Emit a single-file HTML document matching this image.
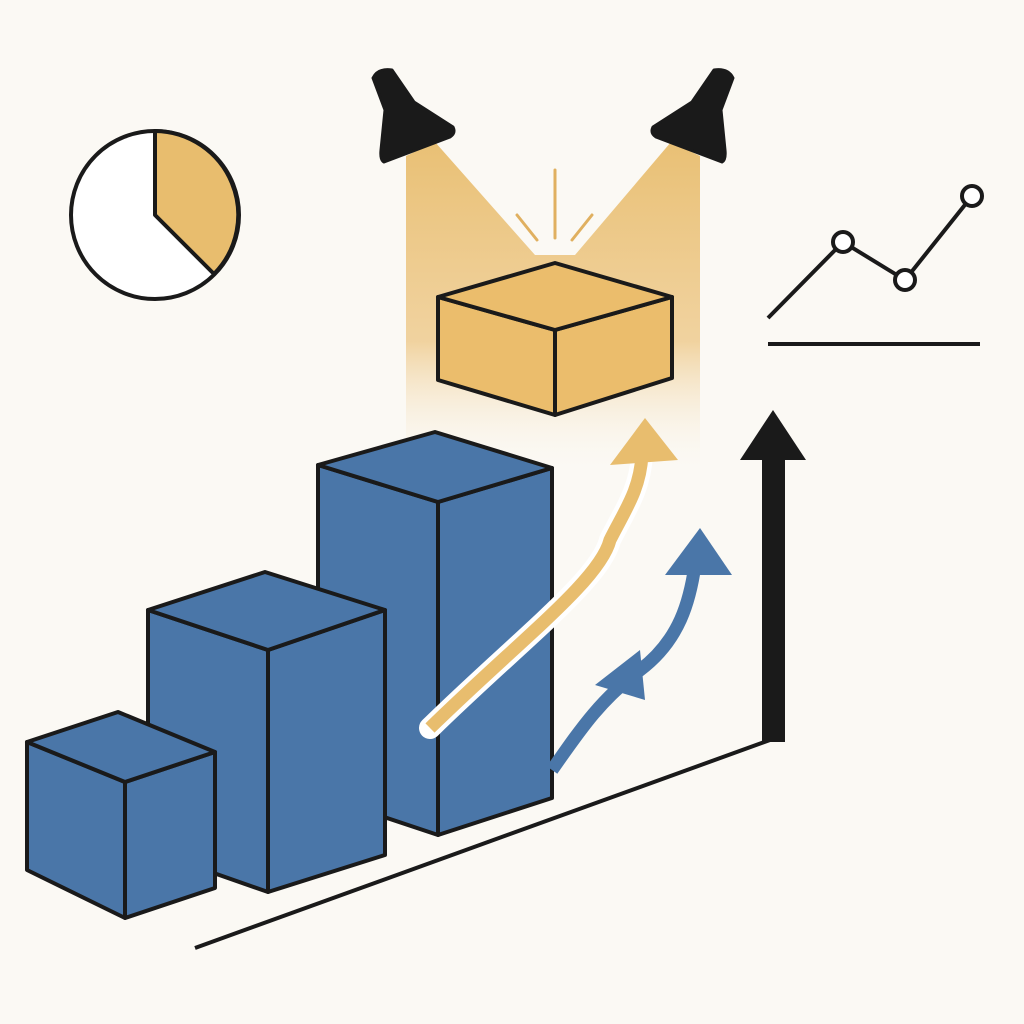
<!DOCTYPE html>
<html><head><meta charset="utf-8"><style>
html,body{margin:0;padding:0;background:#fbf9f4;}
svg{display:block;}
</style></head><body>
<svg width="1024" height="1024" viewBox="0 0 1024 1024" xmlns="http://www.w3.org/2000/svg">
<defs>
<linearGradient id="beam" x1="0" y1="0" x2="0" y2="1">
<stop offset="0" stop-color="#e8bd6e" stop-opacity="0.95"/>
<stop offset="0.6" stop-color="#eec98a" stop-opacity="0.8"/>
<stop offset="1" stop-color="#fbf9f4" stop-opacity="0"/>
</linearGradient>
</defs>
<rect width="1024" height="1024" fill="#fbf9f4"/>

<!-- beams -->
<polygon points="406,156 435,142 535,255 575,255 671,142 700,156 700,475 406,475" fill="url(#beam)"/>

<!-- spotlights -->
<g fill="#1a1a1a" stroke="#1a1a1a" stroke-width="3" stroke-linejoin="round">
<path d="M373,78 Q378,68 392,70 L414,102 L453,127 Q456,133 450,137 L384,162 Q380,160 381,150 L385,110 Z"/>
<path d="M733,78 Q728,68 714,70 L692,102 L653,127 Q650,133 656,137 L722,162 Q726,160 725,150 L721,110 Z"/>
</g>

<!-- sparkles -->
<g stroke="#e0b060" stroke-width="3" stroke-linecap="round">
<line x1="555" y1="170" x2="555" y2="238"/>
<line x1="517" y1="215" x2="537" y2="240"/>
<line x1="592" y1="215" x2="572" y2="240"/>
</g>

<!-- pie clock -->
<circle cx="155" cy="215" r="84" fill="#fff" stroke="#1a1a1a" stroke-width="4"/>
<path d="M155,215 L155,131 A84,84 0 0 1 214,274 Z" fill="#e8bd6e" stroke="#1a1a1a" stroke-width="4" stroke-linejoin="round"/>

<!-- line chart -->
<polyline points="768,318 843,242 905,280 972,196" fill="none" stroke="#1a1a1a" stroke-width="4"/>
<g fill="#fff" stroke="#1a1a1a" stroke-width="4">
<circle cx="843" cy="242" r="10"/><circle cx="905" cy="280" r="10"/><circle cx="972" cy="196" r="10"/>
</g>
<line x1="768" y1="344" x2="980" y2="344" stroke="#1a1a1a" stroke-width="4"/>

<!-- gold box -->
<g stroke="#1a1a1a" stroke-width="4" stroke-linejoin="round">
<polygon points="438,297 555,330 555,415 438,380" fill="#ebbd6c"/>
<polygon points="555,330 672,297 672,378 555,415" fill="#ebbd6c"/>
<polygon points="438,297 555,263 672,297 555,330" fill="#ebbd6c"/>
</g>

<!-- base line -->
<line x1="195" y1="948" x2="770" y2="740" stroke="#1a1a1a" stroke-width="4"/>

<!-- black arrow -->
<rect x="762" y="455" width="23" height="287" fill="#1a1a1a"/>
<polygon points="740,460 773,410 806,460" fill="#1a1a1a"/>

<!-- blue boxes -->
<g stroke="#1a1a1a" stroke-width="4" stroke-linejoin="round" fill="#4a76a8">
<polygon points="318,465 438,502 438,835 318,795"/>
<polygon points="438,502 552,468 552,798 438,835"/>
<polygon points="318,465 435,432 552,468 438,502"/>

<polygon points="148,610 268,650 268,892 148,850"/>
<polygon points="268,650 385,610 385,855 268,892"/>
<polygon points="148,610 265,572 385,610 268,650"/>

<polygon points="27,742 125,782 125,918 27,870"/>
<polygon points="125,782 215,752 215,888 125,918"/>
<polygon points="27,742 118,712 215,752 125,782"/>
</g>

<!-- gold arrow -->
<path d="M430,728 C520,640 600,580 610,540 C625,510 640,490 642,455" fill="none" stroke="#fff" stroke-width="22" stroke-linecap="round"/>
<path d="M430,728 C520,640 600,580 610,540 C625,510 640,490 642,455" fill="none" stroke="#e8bd6e" stroke-width="13"/>
<polygon points="610,465 645,418 678,460" fill="#e8bd6e"/>

<!-- blue arrow -->
<path d="M552,770 C580,730 600,700 640,670 C680,640 690,600 695,565" fill="none" stroke="#4a76a8" stroke-width="13"/>
<polygon points="595,685 640,650 645,700" fill="#4a76a8"/>
<polygon points="665,575 700,528 732,575" fill="#4a76a8"/>
</svg>
</body></html>
